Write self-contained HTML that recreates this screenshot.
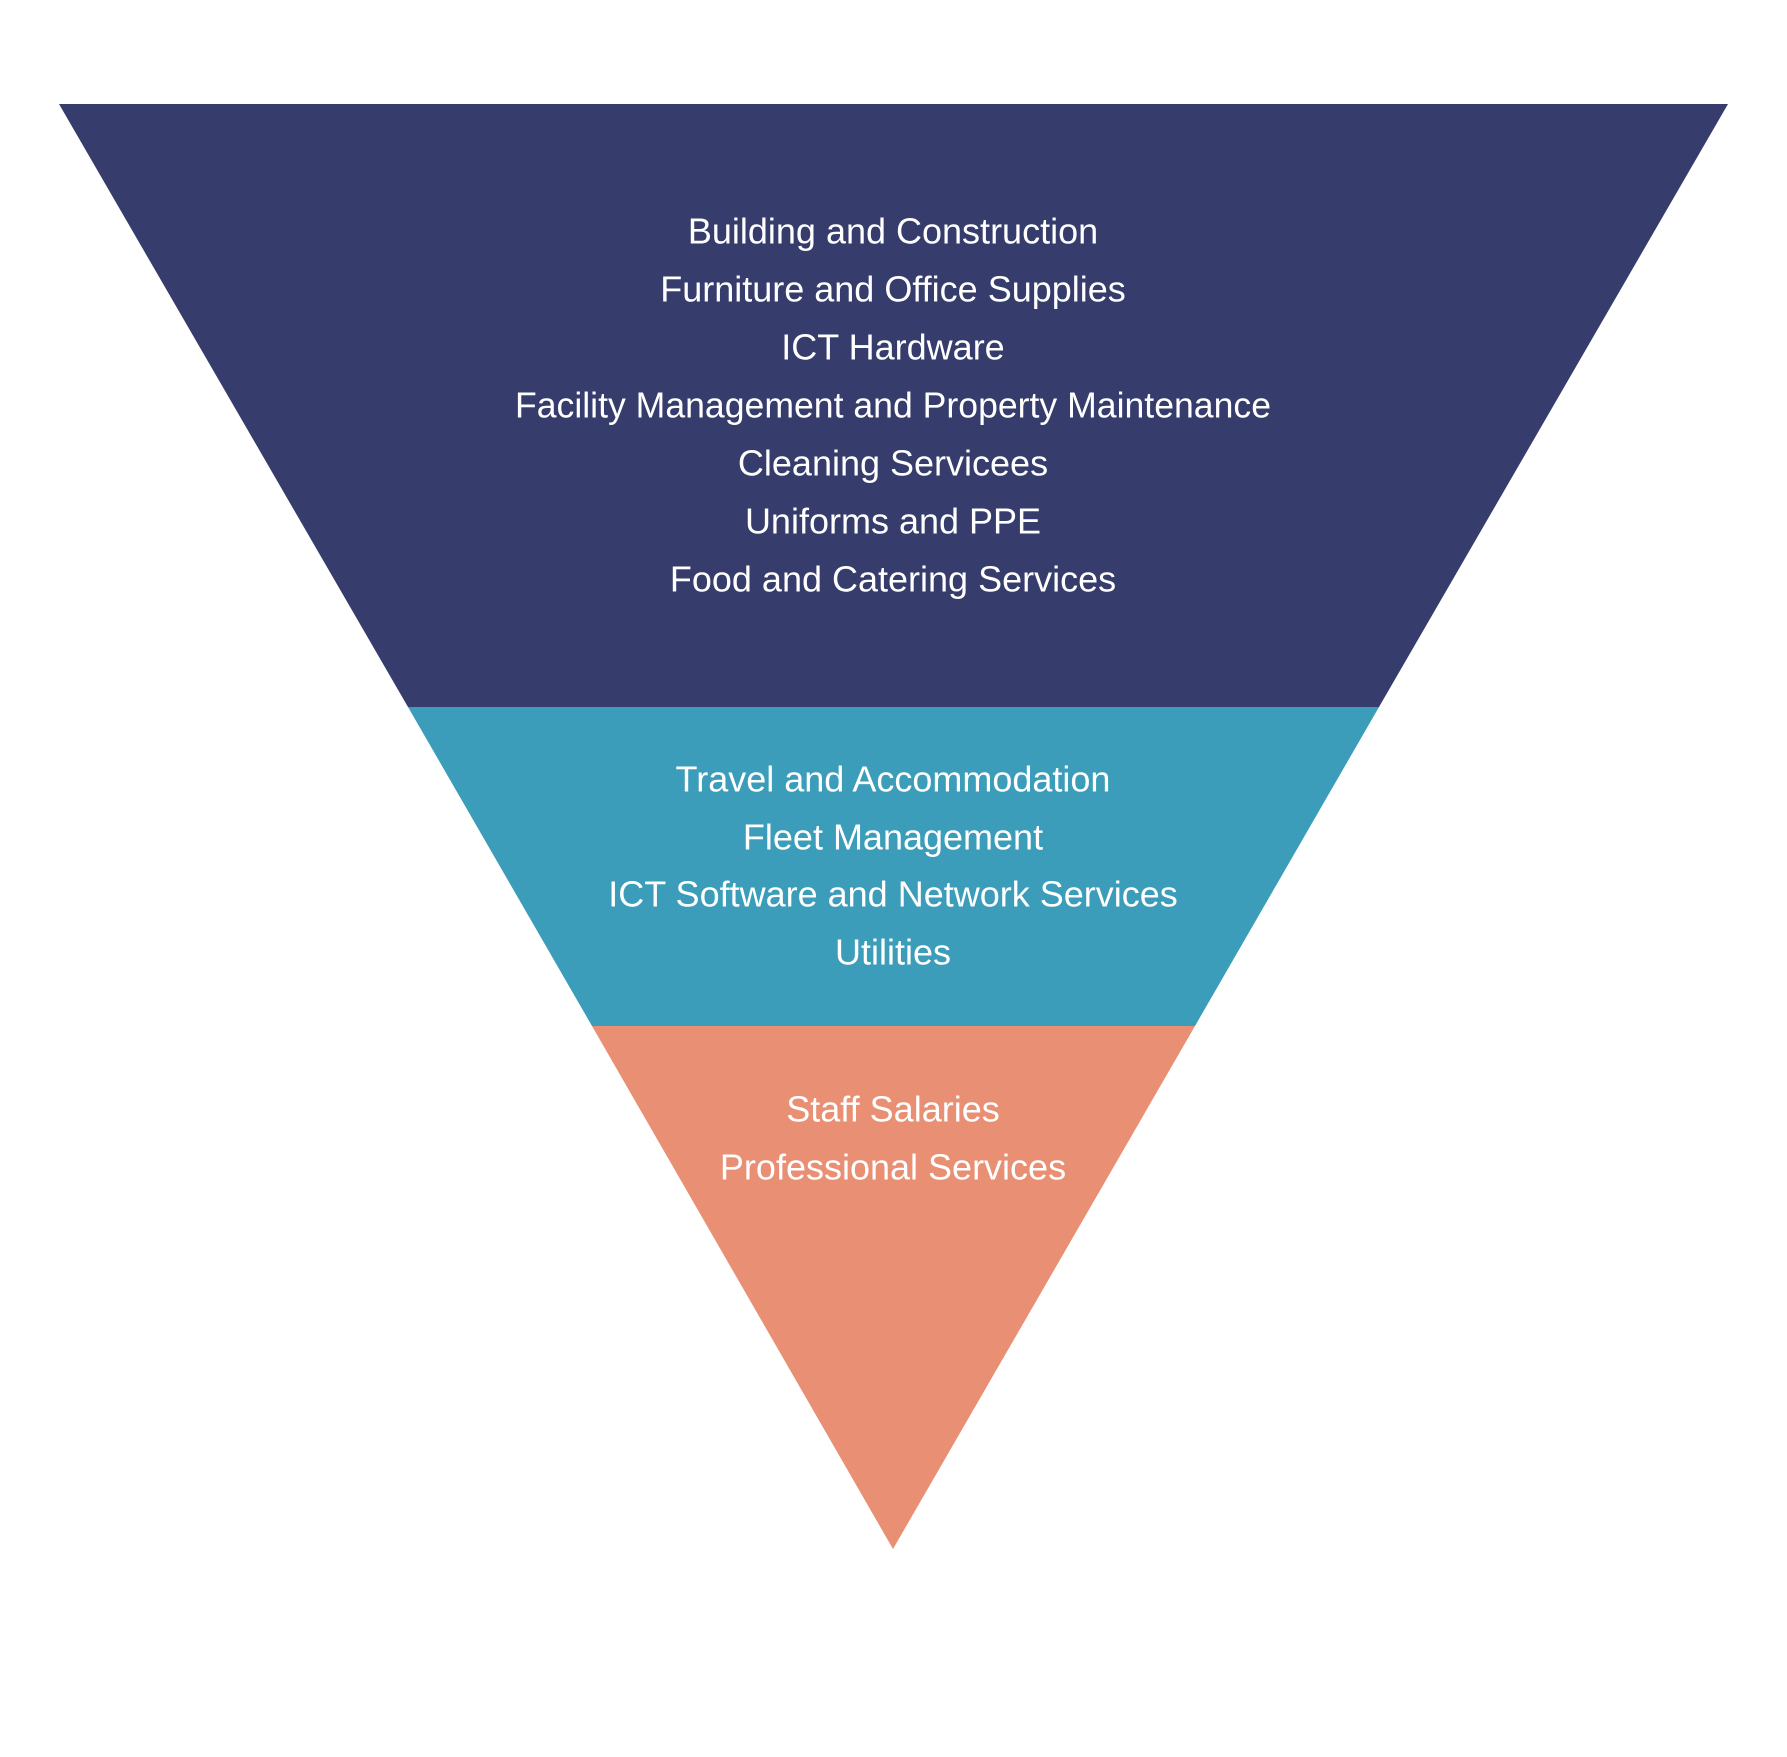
<!DOCTYPE html>
<html><head><meta charset="utf-8"><style>
html,body{margin:0;padding:0;background:#fff;}
svg{display:block}
text{font-family:"Liberation Sans",sans-serif;font-size:36px;fill:#fff;text-anchor:middle;dominant-baseline:central}
</style></head><body>
<svg width="1787" height="1757" viewBox="0 0 1787 1757" xmlns="http://www.w3.org/2000/svg">
<rect width="1787" height="1757" fill="#fff"/>
<polygon points="59,104 1728,104 1379,707 408,707" fill="#363C6B"/>
<polygon points="408,707 1379,707 1195,1026 592,1026" fill="#3B9DB9"/>
<polygon points="592,1026 1195,1026 893,1549" fill="#E88F74"/>
<text x="893" y="231">Building and Construction</text>
<text x="893" y="289">Furniture and Office Supplies</text>
<text x="893" y="347">ICT Hardware</text>
<text x="893" y="405" textLength="756" lengthAdjust="spacingAndGlyphs">Facility Management and Property Maintenance</text>
<text x="893" y="463">Cleaning Servicees</text>
<text x="893" y="521">Uniforms and PPE</text>
<text x="893" y="579">Food and Catering Services</text>
<text x="893" y="779">Travel and Accommodation</text>
<text x="893" y="837">Fleet Management</text>
<text x="893" y="894">ICT Software and Network Services</text>
<text x="893" y="952">Utilities</text>
<text x="893" y="1109">Staff Salaries</text>
<text x="893" y="1167">Professional Services</text>
</svg>
</body></html>
